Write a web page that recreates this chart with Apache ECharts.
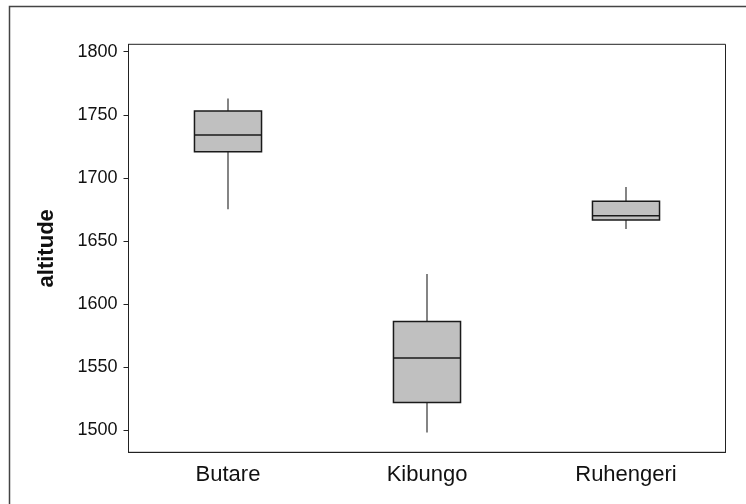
<!DOCTYPE html>
<html>
<head>
<meta charset="utf-8">
<script src="https://cdn.jsdelivr.net/npm/echarts@6/dist/echarts.min.js"></script>
<style>
html,body{margin:0;padding:0;background:#fff;}
#chart{width:746px;height:504px;}
</style>
</head>
<body>
<div id="chart"></div>
<script>
// Data
var categories = ['Butare', 'Kibungo', 'Ruhengeri'];
var whiskerLow  = [1675, 1498, 1659.5];
var q1          = [1720.7, 1521.7, 1666.5];
var median      = [1734, 1557, 1670];
var q3          = [1753, 1586, 1681.4];
var whiskerHigh = [1763, 1623.7, 1692.7];
var yTicks = [1500, 1550, 1600, 1650, 1700, 1750, 1800];

var boxData = categories.map(function (c, i) {
  return [i, whiskerLow[i], q1[i], median[i], q3[i], whiskerHigh[i]];
});

var chart = echarts.init(document.getElementById('chart'), null, {renderer: 'canvas'});
var axisColor = '#222';
var fontFam = '"Liberation Sans", Arial, sans-serif';

function renderBox(params, api) {
  var x = api.value(0);
  var lo = api.coord([x, api.value(1)]);
  var b1 = api.coord([x, api.value(2)]);
  var md = api.coord([x, api.value(3)]);
  var b3 = api.coord([x, api.value(4)]);
  var hi = api.coord([x, api.value(5)]);
  var w = api.size([1, 0])[0] * 0.337;
  var cx = lo[0];
  var lineStyle = {stroke: '#333', lineWidth: 1.2};
  return {
    type: 'group',
    children: [
      {type: 'line', shape: {x1: cx, y1: hi[1], x2: cx, y2: b3[1]}, style: lineStyle},
      {type: 'line', shape: {x1: cx, y1: b1[1], x2: cx, y2: lo[1]}, style: lineStyle},
      {type: 'rect', shape: {x: cx - w / 2, y: b3[1], width: w, height: b1[1] - b3[1]},
        style: {fill: '#c0c0c0', stroke: '#1a1a1a', lineWidth: 1.5}},
      {type: 'line', shape: {x1: cx - w / 2, y1: md[1], x2: cx + w / 2, y2: md[1]},
        style: {stroke: '#1a1a1a', lineWidth: 1.5}}
    ]
  };
}

chart.setOption({
  backgroundColor: '#fff',
  animation: false,
  graphic: [{
    type: 'rect',
    shape: {x: 9.5, y: 6.5, width: 800, height: 600},
    style: {fill: 'none', stroke: '#444', lineWidth: 1.5},
    silent: true
  }],
  grid: {
    left: 128.5, top: 44.3, right: 20.5, bottom: 51.7,
    show: true, borderColor: axisColor, borderWidth: 1, backgroundColor: 'transparent'
  },
  xAxis: {
    type: 'category',
    data: categories,
    boundaryGap: true,
    axisLine: {lineStyle: {color: axisColor, width: 1}},
    axisTick: {alignWithLabel: true, length: 5, lineStyle: {color: axisColor}},
    axisLabel: {color: '#111', fontSize: 22, fontFamily: fontFam, margin: 12},
    splitLine: {show: false}
  },
  yAxis: {
    type: 'value',
    min: 1482.3,
    max: 1805.9,
    name: 'altitude',
    nameLocation: 'middle',
    nameGap: 71,
    nameMoveOverlap: false,
    nameTextStyle: {fontSize: 22, fontWeight: 'bold', fontFamily: fontFam, color: '#111'},
    axisLine: {show: true, lineStyle: {color: axisColor, width: 1}},
    axisTick: {show: true, length: 5, lineStyle: {color: axisColor}, customValues: yTicks},
    axisLabel: {
      color: '#111', fontSize: 18, fontFamily: fontFam, margin: 11, customValues: yTicks,
      formatter: function (v) { return String(v); }
    },
    splitLine: {show: false}
  },
  series: [{
    type: 'custom',
    renderItem: renderBox,
    encode: {x: 0, y: [1, 2, 3, 4, 5]},
    data: boxData
  }]
});
</script>
</body>
</html>
